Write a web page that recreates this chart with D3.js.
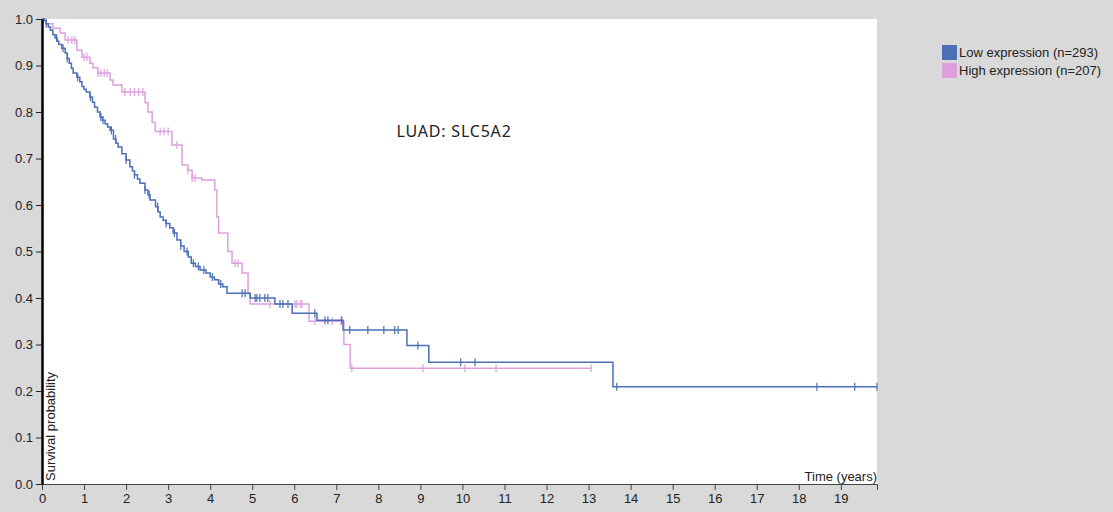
<!DOCTYPE html>
<html>
<head>
<meta charset="utf-8">
<script src="https://cdn.jsdelivr.net/npm/d3@7"></script>
<style>
  body { margin: 0; background: #d9d9d9; }
  svg { display: block; font-family: "Liberation Sans", Arial, sans-serif; }
  .tick text { font-size: 13px; fill: #222; }
</style>
</head>
<body>
<div id="km"></div>
<script>

// survival curves: step times (years) and survival after each step
var lowTimes = [0.05,0.1,0.15,0.2,0.26,0.31,0.36,0.4,0.47,0.55,0.6,0.65,0.7,0.74,0.83,0.9,0.95,1.0,1.05,1.14,1.2,1.25,1.32,1.38,1.44,1.5,1.56,1.62,1.7,1.76,1.81,1.9,2.0,2.09,2.15,2.2,2.27,2.33,2.45,2.52,2.57,2.7,2.76,2.81,2.88,2.95,3.04,3.12,3.21,3.3,3.38,3.48,3.55,3.65,3.76,3.9,4.0,4.1,4.2,4.3,4.4,4.95,5.54,5.95,6.54,7.16,8.68,9.2,13.58];
var lowSurv  = [0.997,0.99,0.983,0.976,0.966,0.959,0.952,0.945,0.937,0.927,0.915,0.905,0.894,0.884,0.875,0.865,0.855,0.849,0.843,0.832,0.821,0.81,0.8,0.789,0.782,0.775,0.768,0.761,0.742,0.733,0.725,0.71,0.697,0.682,0.673,0.665,0.656,0.647,0.632,0.622,0.611,0.596,0.585,0.574,0.567,0.56,0.551,0.54,0.525,0.512,0.5,0.488,0.475,0.468,0.46,0.454,0.445,0.439,0.43,0.424,0.41,0.4,0.387,0.367,0.352,0.331,0.298,0.262,0.209];
var lowCensor = [0.1,0.35,0.5,0.6,0.85,1.15,1.4,1.45,1.65,1.75,2.0,2.2,2.45,2.55,2.75,2.95,3.15,3.3,3.45,3.6,3.72,3.85,4.05,4.25,4.76,4.83,5.07,5.11,5.18,5.3,5.37,5.66,5.73,5.85,6.49,6.73,6.8,7.13,7.32,7.75,8.13,8.39,8.47,8.94,9.96,10.3,13.67,18.43,19.33,19.86];
var lowEnd = 19.86;

var highTimes = [0.1,0.26,0.43,0.55,0.83,0.95,1.14,1.21,1.33,1.62,1.69,1.9,2.45,2.52,2.62,2.69,3.09,3.33,3.47,3.57,3.8,4.11,4.16,4.2,4.42,4.52,4.76,4.9,4.95,6.35,7.18,7.33];
var highSurv  = [0.99,0.98,0.97,0.955,0.933,0.918,0.905,0.895,0.884,0.869,0.858,0.843,0.82,0.8,0.778,0.758,0.729,0.686,0.675,0.658,0.654,0.632,0.574,0.54,0.5,0.475,0.454,0.41,0.387,0.35,0.3,0.249];
var highCensor = [0.62,0.71,0.78,1.0,1.07,1.33,1.4,1.48,1.55,1.97,2.1,2.2,2.3,2.4,2.81,2.9,3.0,3.21,3.47,3.57,3.64,4.59,4.66,5.42,6.02,6.06,6.14,6.18,6.49,6.9,7.11,7.37,9.06,10.06,10.8,13.06];
var highEnd = 13.06;

var groups = ["Low expression (n=293)", "High expression (n=207)"];
var colours = ["#4a6fb5", "#dda0dd"];
var xTicks = d3.range(0, 20);
var yTicks = d3.range(0, 11).map(function(d) { return d / 10; });

var width = 1113, height = 512;
var margin = {left: 42, top: 19, right: 236, bottom: 28};

var svg = d3.select("#km")
.append("svg")
.attr("width", width)
.attr("height", height);

var x = d3.scaleLinear()
.domain([0, lowEnd])
.range([margin.left, width - margin.right]);

var y = d3.scaleLinear()
.domain([0, 1])
.range([height - margin.bottom, margin.top]);

// white plot area
svg.append("rect")
.attr("x", x(0))
.attr("y", y(1))
.attr("width", x(lowEnd) - x(0))
.attr("height", y(0) - y(1))
.style("fill", "white");

function stepPath(times, surv, end) {
  var pts = [[0, 1]];
  var s = 1;
  times.forEach(function(t, i) {
    pts.push([t, s]);
    s = surv[i];
    pts.push([t, s]);
  });
  pts.push([end, s]);
  return pts;
}

function survAt(times, surv, t) {
  var s = 1;
  for (var i = 0; i < times.length; i++) {
    if (times[i] <= t) s = surv[i];
  }
  return s;
}

var line = d3.line()
.x(function(d) { return x(d[0]); })
.y(function(d) { return y(d[1]); });

var curves = [
  {times: lowTimes, surv: lowSurv, censor: lowCensor, end: lowEnd},
  {times: highTimes, surv: highSurv, censor: highCensor, end: highEnd}
];

// draw high first so low sits on top
[1, 0].forEach(function(k) {
  var c = curves[k];
  var g = svg.append("g");
  g.append("path")
  .attr("d", line(stepPath(c.times, c.surv, c.end)))
  .attr("fill", "none")
  .attr("stroke", colours[k])
  .attr("stroke-width", 1.5);

  g.selectAll("line")
  .data(c.censor)
  .enter()
  .append("line")
  .attr("x1", function(d) { return x(d); })
  .attr("x2", function(d) { return x(d); })
  .attr("y1", function(d) { return y(survAt(c.times, c.surv, d)) - 4; })
  .attr("y2", function(d) { return y(survAt(c.times, c.surv, d)) + 4; })
  .attr("stroke", colours[k])
  .attr("stroke-width", 1.2);
});

// axes
var xAxis = svg.append("g")
.attr("transform", "translate(0," + y(0) + ")")
.call(d3.axisBottom(x).tickValues(xTicks).tickFormat(d3.format("d")).tickSizeOuter(6));
xAxis.select(".domain").attr("stroke", "#444");
xAxis.selectAll(".tick line").attr("stroke", "#444");
xAxis.selectAll(".tick text").attr("dy", "0.8em");

var yAxis = svg.append("g")
.attr("transform", "translate(" + x(0) + ",0)")
.call(d3.axisLeft(y).tickValues(yTicks).tickFormat(d3.format(".1f")).tickSizeOuter(0));
yAxis.select(".domain").attr("stroke", "#000").attr("stroke-width", 2.5);
yAxis.selectAll(".tick line").attr("stroke", "#222");

// axis titles
svg.append("text")
.attr("transform", "translate(" + (x(0) + 13) + "," + (y(0) - 3) + ") rotate(-90)")
.style("font-size", "13px")
.style("fill", "#222")
.text("Survival probability");

svg.append("text")
.attr("x", x(lowEnd))
.attr("y", y(0) - 3)
.attr("text-anchor", "end")
.style("font-size", "13px")
.style("fill", "#222")
.text("Time (years)");

// chart title
svg.append("text")
.attr("x", 454)
.attr("y", 137)
.attr("text-anchor", "middle")
.style("font-family", "'Noto Sans', sans-serif")
.style("font-size", "16px")
.style("letter-spacing", "0.8px")
.style("fill", "#222")
.text("LUAD: SLC5A2");

// legend
var legend = svg.append("g")
.attr("transform", "translate(942,45)");

legend.selectAll("rect")
.data(groups)
.enter()
.append("rect")
.attr("x", 0)
.attr("y", function(d, i) { return i * 18; })
.attr("width", 15)
.attr("height", 15)
.style("fill", function(d, i) { return colours[i]; });

legend.selectAll("text")
.data(groups)
.enter()
.append("text")
.attr("x", 17)
.attr("y", function(d, i) { return i * 18 + 12; })
.style("font-size", "13px")
.style("fill", "#222")
.text(function(d) { return d; });

</script>
</body>
</html>
